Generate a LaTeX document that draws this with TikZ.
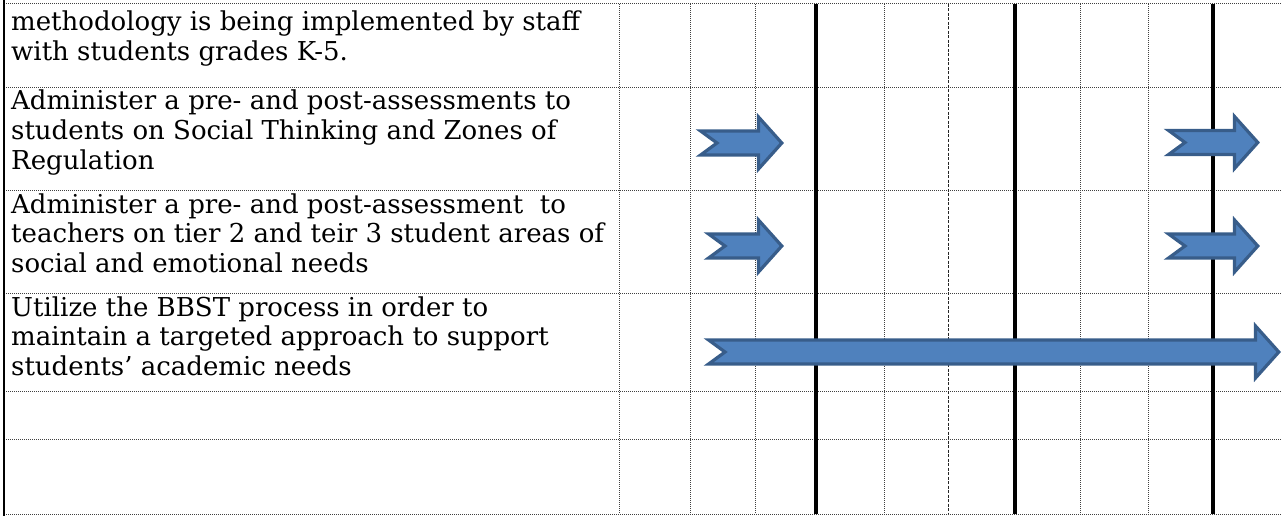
\documentclass[tikz,border=0pt]{standalone}
\usepackage{fontspec}
\setmainfont{DejaVu Serif}
\definecolor{arrowfill}{HTML}{4F81BD}
\definecolor{arrowline}{HTML}{385D8A}
% notched block arrow: tail x, tip x, centre y
\newcommand{\notcharrow}[3]{%
  \draw[blockarrow] (#1+1.6,#3-12) -- (#2-25.5,#3-12) -- (#2-25.5,#3-26)
    -- (#2-2.2,#3) -- (#2-25.5,#3+26) -- (#2-25.5,#3+12) -- (#1+1.6,#3+12)
    -- (#1+18,#3) -- cycle;}
\begin{document}
\begin{tikzpicture}[x=1pt,y=-1pt,
  dotrule/.style={line width=1pt, black!75, dash pattern=on 1pt off 1pt},
  dashrule/.style={line width=1pt, black!85, dash pattern=on 3pt off 1.5pt},
  heavyrule/.style={line width=3.2pt, black},
  border/.style={line width=2.4pt, black},
  cell/.style={anchor=base west, inner sep=0pt, font=\fontsize{26}{29.5}\selectfont},
  blockarrow/.style={fill=arrowfill, draw=arrowline, line width=3.2pt, line join=miter}
]
\useasboundingbox (0,0) rectangle (1282,516);

% row rules
\foreach \ry in {4,88,190,293,391,439,514}
  \draw[dotrule] (4,\ry) -- (1282,\ry);

% week columns
\foreach \cx in {619.5,690,755,884,1080,1148}
  \draw[dotrule] (\cx,4) -- (\cx,514);
\draw[dashrule] (948,4) -- (948,514);

% month boundaries and left edge
\foreach \cx in {816,1015,1213}
  \draw[heavyrule] (\cx,4) -- (\cx,514);
\draw[border] (4,0) -- (4,516);

% timeline arrows
\notcharrow{699}{784}{143}
\notcharrow{1167}{1260}{142.5}
\notcharrow{707}{784}{246}
\notcharrow{1167}{1260}{246}
\notcharrow{707}{1281}{352}

% activity descriptions
\node[cell] (a1) at (11,31) {methodology is being implemented by staff};
\node[cell] (a2) at (11,61) {with students grades K-5.};
\node[cell] (b1) at (11,110) {Administer a pre- and post-assessments to};
\node[cell] (b2) at (11,139.5) {students on Social Thinking and Zones of};
\node[cell] (b3) at (11,169) {Regulation};
\node[cell] (c1) at (11,213) {Administer a pre- and post-assessment\ \ to};
\node[cell] (c2) at (11,242.5) {teachers on tier 2 and teir 3 student areas of};
\node[cell] (c3) at (11,272) {social and emotional needs};
\node[cell] (d1) at (11,316) {Utilize the BBST process in order to};
\node[cell] (d2) at (11,345.5) {maintain a targeted approach to support};
\node[cell] (d3) at (11,375) {students’ academic needs};
\end{tikzpicture}
\end{document}
